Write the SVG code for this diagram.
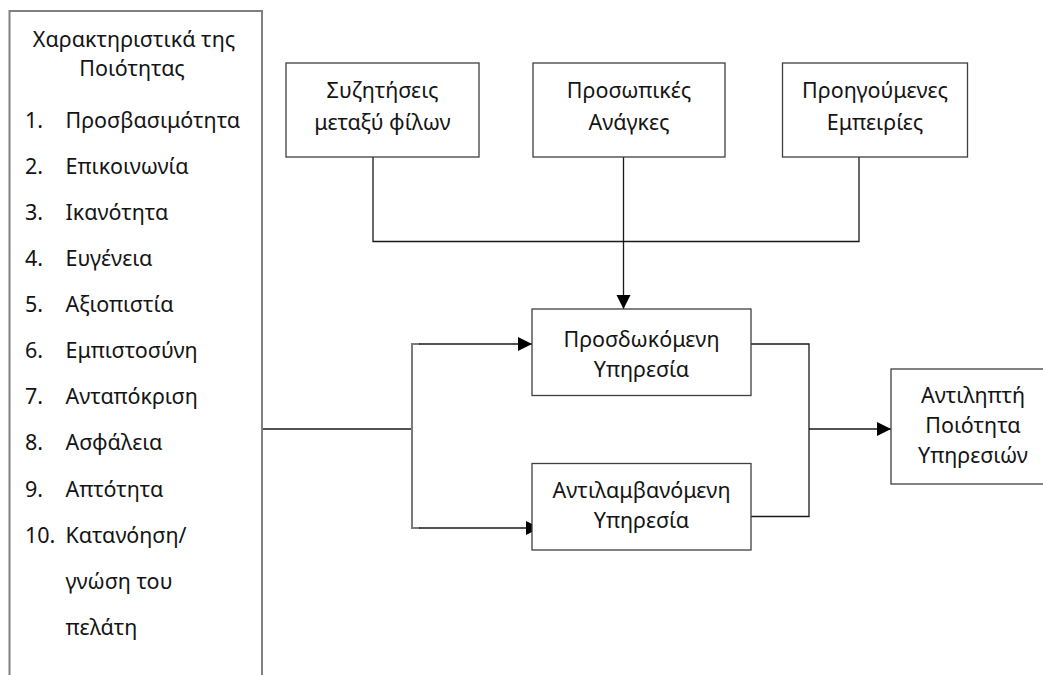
<svg xmlns="http://www.w3.org/2000/svg" width="1043" height="675" viewBox="0 0 1043 675">
  <style>
    .box { fill: #ffffff; stroke: #404040; stroke-width: 1.3; }
    .side { fill: #ffffff; stroke: #808080; stroke-width: 2; }
    .lbl { font-family: "Noto Sans", "Open Sans", sans-serif; font-size: 21.5px; fill: #141414; }
    .mid { text-anchor: middle; }
    .wire { fill: none; stroke: #1a1a1a; stroke-width: 1.3; }
    .wire-grey { fill: none; stroke: #7a7a7a; stroke-width: 2; }
  </style>
  <defs>
    <marker id="arrow" markerUnits="userSpaceOnUse" markerWidth="15" markerHeight="15" refX="14" refY="7" orient="auto">
      <path d="M0,0 L14,7 L0,14 Z" fill="#000000"/>
    </marker>
  </defs>
  <rect width="1043" height="675" fill="#ffffff"/>

  <!-- connectors -->
  <g id="connectors">
    <path class="wire" d="M373,157 V241.5 H859 V157"/>
    <path class="wire" d="M623.5,157 V309" marker-end="url(#arrow)"/>
    <path class="wire" d="M262,429 H412"/>
    <path class="wire-grey" d="M412,429 V344 H420"/>
    <path class="wire" d="M419,344 H532" marker-end="url(#arrow)"/>
    <path class="wire-grey" d="M412,429 V528 H420"/>
    <path class="wire" d="M419,528 H540" marker-end="url(#arrow)"/>
    <path class="wire" d="M751,344 H809 V516.5 H751"/>
    <path class="wire" d="M809,429 H891" marker-end="url(#arrow)"/>
  </g>

  <!-- quality characteristics list -->
  <g id="node-characteristics">
    <rect class="side" x="9.5" y="11" width="252.5" height="700"/>
    <text class="lbl mid" x="134" y="46.7">Χαρακτηριστικά της</text>
    <text class="lbl mid" x="132" y="76">Ποιότητας</text>
    <g class="lbl">
      <text x="25" y="127.7">1.</text><text x="65.5" y="127.7">Προσβασιμότητα</text>
      <text x="25" y="173.8">2.</text><text x="65.5" y="173.8">Επικοινωνία</text>
      <text x="25" y="219.9">3.</text><text x="65.5" y="219.9">Ικανότητα</text>
      <text x="25" y="266">4.</text><text x="65.5" y="266">Ευγένεια</text>
      <text x="25" y="312.1">5.</text><text x="65.5" y="312.1">Αξιοπιστία</text>
      <text x="25" y="358.2">6.</text><text x="65.5" y="358.2">Εμπιστοσύνη</text>
      <text x="25" y="404.3">7.</text><text x="65.5" y="404.3">Ανταπόκριση</text>
      <text x="25" y="450.4">8.</text><text x="65.5" y="450.4">Ασφάλεια</text>
      <text x="25" y="496.5">9.</text><text x="65.5" y="496.5">Απτότητα</text>
      <text x="25" y="542.6">10.</text><text x="65.5" y="542.6">Κατανόηση/</text>
      <text x="65.5" y="588.7">γνώση του</text>
      <text x="65.5" y="634.8">πελάτη</text>
    </g>
  </g>

  <g id="node-discussions">
    <rect class="box" x="286" y="63" width="193" height="94"/>
    <text class="lbl mid" x="382.5" y="98.3">Συζητήσεις</text>
    <text class="lbl mid" x="382.5" y="129.5">μεταξύ φίλων</text>
  </g>

  <g id="node-needs">
    <rect class="box" x="533" y="63" width="192" height="94"/>
    <text class="lbl mid" x="629" y="98.3">Προσωπικές</text>
    <text class="lbl mid" x="629" y="129.5">Ανάγκες</text>
  </g>

  <g id="node-experience">
    <rect class="box" x="782.5" y="63" width="185" height="94"/>
    <text class="lbl mid" x="875" y="98.3">Προηγούμενες</text>
    <text class="lbl mid" x="875" y="129.5">Εμπειρίες</text>
  </g>

  <g id="node-expected">
    <rect class="box" x="532" y="309" width="219" height="86.5"/>
    <text class="lbl mid" x="641.5" y="346.7">Προσδωκόμενη</text>
    <text class="lbl mid" x="641.5" y="376.7">Υπηρεσία</text>
  </g>

  <g id="node-perceived">
    <rect class="box" x="532" y="463.5" width="219" height="86.5"/>
    <text class="lbl mid" x="641.5" y="498.3">Αντιλαμβανόμενη</text>
    <text class="lbl mid" x="641.5" y="528.3">Υπηρεσία</text>
  </g>

  <g id="node-quality">
    <rect class="box" x="891" y="369" width="164" height="115"/>
    <text class="lbl mid" x="973" y="403.3">Αντιληπτή</text>
    <text class="lbl mid" x="973" y="433.3">Ποιότητα</text>
    <text class="lbl mid" x="973" y="463.3">Υπηρεσιών</text>
  </g>
</svg>
